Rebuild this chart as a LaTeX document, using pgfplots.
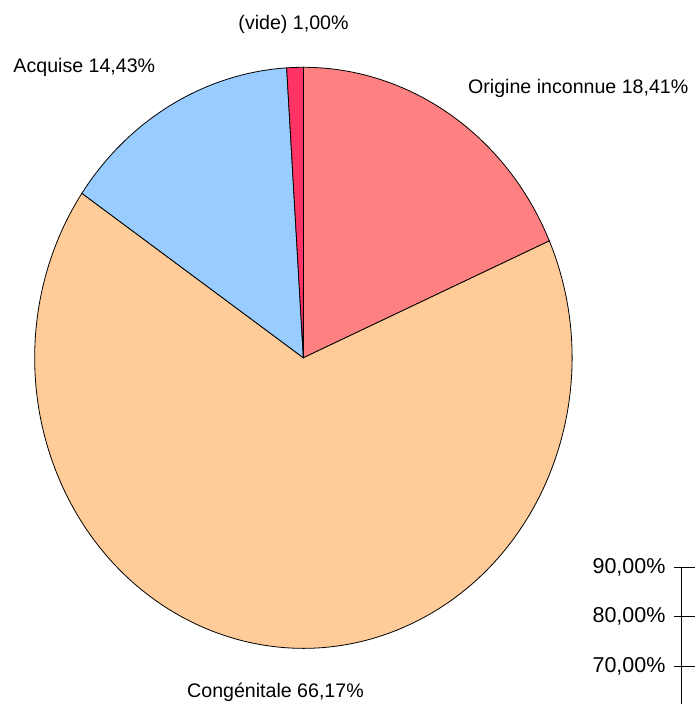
\documentclass[border=0pt]{standalone}
\usepackage{pgfplots}
\pgfplotsset{compat=1.18}
\usepackage{fontspec}
\setmainfont{Liberation Sans}
\definecolor{cOrig}{HTML}{FF8080}
\definecolor{cCong}{HTML}{FFCC99}
\definecolor{cAcq}{HTML}{99CCFF}
\definecolor{cVide}{HTML}{FF3366}
\newcommand\lf{\fontsize{19.6bp}{23bp}\selectfont}
% shares (percent), clockwise from 12 o'clock
\def\vOrig{18.41}\def\vCong{66.17}\def\vAcq{14.43}\def\vVide{1.00}
\pgfmathsetmacro\aS{90}
\pgfmathsetmacro\aA{\aS-3.6*\vOrig}
\pgfmathsetmacro\aB{\aA-3.6*\vCong}
\pgfmathsetmacro\aC{\aB-3.6*\vAcq}
\pgfmathsetmacro\aD{\aC-3.6*\vVide}
\begin{document}
\begin{tikzpicture}[x=1bp,y=1bp]
\begin{axis}[hide axis, scale only axis, width=537.4bp, height=581bp,
  xmin=-1, xmax=1, ymin=-1, ymax=1, at={(303.35bp,346.2bp)}, anchor=center, clip=false]
\filldraw[fill=cOrig, draw=black, line width=0.8bp] (axis cs:0,0) -- (axis cs:{cos(\aS)},{sin(\aS)}) arc[start angle=\aS, end angle=\aA, x radius=268.7bp, y radius=290.5bp] -- cycle;
\filldraw[fill=cCong, draw=black, line width=0.8bp] (axis cs:0,0) -- (axis cs:{cos(\aA)},{sin(\aA)}) arc[start angle=\aA, end angle=\aB, x radius=268.7bp, y radius=290.5bp] -- cycle;
\filldraw[fill=cAcq, draw=black, line width=0.8bp] (axis cs:0,0) -- (axis cs:{cos(\aB)},{sin(\aB)}) arc[start angle=\aB, end angle=\aC, x radius=268.7bp, y radius=290.5bp] -- cycle;
\filldraw[fill=cVide, draw=black, line width=0.8bp] (axis cs:0,0) -- (axis cs:{cos(\aC)},{sin(\aC)}) arc[start angle=\aC, end angle=\aD, x radius=268.7bp, y radius=290.5bp] -- cycle;
\end{axis}
\begin{axis}[scale only axis, width=20bp, height=198bp, at={(681bp,137bp)}, anchor=north west,
  xmin=0, xmax=1, ymin=50, ymax=90, axis x line=none, axis y line=left,
  axis line style={-, line width=0.8bp},
  ytick={70,80,90}, yticklabels={{70,00\%},{80,00\%},{90,00\%}},
  tick align=center, major tick length=24bp,
  ytick style={line width=0.8bp, xshift=5bp, black},
  yticklabel style={font=\fontsize{21.5bp}{25bp}\selectfont}, clip=false]
\end{axis}
\node[anchor=base, inner sep=0] at (293.5,674.7) {\lf (vide) 1,00\%};
\node[anchor=base west, inner sep=0] at (468,610.7) {\lf Origine inconnue 18,41\%};
\node[anchor=base west, inner sep=0] at (13.3,631.7) {\lf Acquise 14,43\%};
\node[anchor=base west, inner sep=0] at (187,6.3) {\lf Congénitale 66,17\%};
\pgfresetboundingbox
\useasboundingbox (0,0) rectangle (695,704);
\end{tikzpicture}
\end{document}
